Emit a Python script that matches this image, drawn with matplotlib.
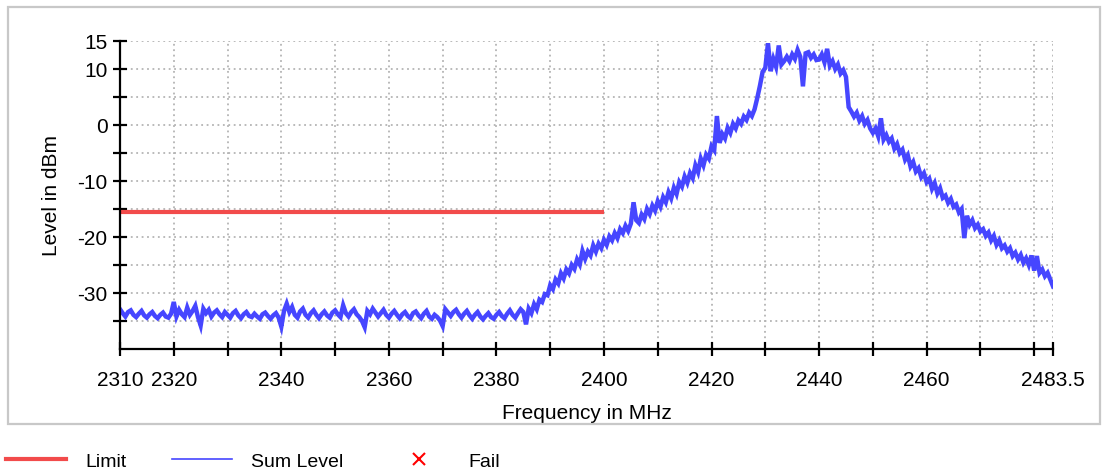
"""Spectrum plot: sum level vs limit line, 2310-2483.5 MHz."""
import numpy as np
import matplotlib
matplotlib.use("Agg")
import matplotlib.pyplot as plt
from matplotlib.lines import Line2D
from matplotlib.patches import Rectangle

plt.rcParams["font.family"] = ["Liberation Sans Narrow", "Liberation Sans", "DejaVu Sans"]

# ── data (0.5 MHz per point) ─────────────────────────────────────────
F_START = 2310.0
F_STEP = 0.5

LEVEL_DBM = [
    # 2310 .. 2384.5 : noise floor
    -32.9, -33.6, -34.2, -33.4, -33.1, -33.9, -34.3, -33.7, -33.2, -34.0,
    -34.4, -33.8, -33.4, -34.1, -34.5, -33.9, -33.5, -34.2, -34.4, -33.7,
    -31.6, -34.2, -33.0, -33.8, -34.3, -32.6, -33.9, -33.2, -32.3, -34.3,
    -35.8, -32.8, -33.6, -33.0, -34.2, -33.5, -33.1, -33.8, -34.3, -33.4,
    -33.9, -34.4, -33.6, -33.2, -34.0, -34.5, -33.8, -33.4, -34.1, -34.3,
    -33.7, -34.2, -34.6, -33.8, -33.5, -34.1, -34.6, -34.0, -33.6, -34.4,
    -36.0, -33.2, -31.9, -33.4, -32.5, -33.9, -34.4, -33.3, -32.8, -33.9,
    -34.4, -33.6, -33.1, -33.9, -34.5, -33.8, -33.3, -34.0, -34.4, -33.5,
    -33.1, -33.8, -34.3, -32.2, -33.6, -34.2, -33.4, -32.9, -33.8, -34.3,
    -35.0, -36.1, -33.2, -33.8, -32.8, -33.5, -34.2, -33.6, -33.0, -33.9,
    -34.4, -33.7, -33.2, -33.9, -34.5, -33.8, -33.4, -34.1, -34.5, -33.6,
    -33.3, -34.0, -34.5, -33.7, -33.2, -34.2, -34.6, -33.9, -34.3, -34.9,
    -35.9, -32.9, -33.5, -34.1, -33.4, -33.0, -33.8, -34.4, -33.7, -33.2,
    -34.0, -34.6, -33.9, -33.4, -34.2, -34.7, -34.1, -33.6, -34.3, -34.6,
    -33.9, -33.4, -34.1, -34.5, -33.7, -33.1, -33.9, -34.4, -33.6, -32.9,
    # 2385 .. 2429.5 : lower skirt
    -33.4, -35.6, -32.8, -33.6, -32.0, -32.9, -31.2, -31.6, -30.2, -30.4,
    -28.6, -29.3, -27.6, -28.3, -26.5, -27.4, -25.8, -26.5, -25.0, -25.7,
    -24.0, -24.9, -22.5, -23.9, -22.6, -23.3, -21.5, -22.6, -21.2, -22.0,
    -20.5, -21.4, -19.9, -20.6, -19.3, -20.2, -18.6, -19.3, -18.0, -18.9,
    -17.6, -13.8, -17.0, -17.5, -16.0, -16.8, -15.0, -15.9, -14.4, -15.3,
    -13.6, -14.6, -12.9, -13.8, -12.0, -13.1, -11.2, -12.3, -10.2, -11.0,
    -9.2, -10.3, -8.6, -9.5, -7.2, -8.4, -6.0, -7.2, -5.3, -6.0,
    -3.8, -4.5, 1.6, -3.2, -1.6, -2.4, -0.5, -1.4, 0.2, -0.6,
    0.8, 0.2, 1.5, 0.9, 2.2, 1.6, 2.8, 4.8, 7.0, 9.5,
    # 2430 .. 2449.5 : in-band
    10.2, 14.6, 9.6, 11.8, 10.4, 14.2, 10.8, 11.4, 12.2, 11.4,
    12.6, 11.8, 13.4, 12.2, 6.9, 12.8, 13.0, 12.0, 12.6, 11.6,
    11.7, 12.6, 11.2, 13.6, 10.6, 11.4, 10.0, 10.8, 9.2, 9.8,
    8.6, 3.2, 2.4, 1.5, 2.2, 0.8, 1.6, 0.2, 0.9, -0.6,
    # 2450 .. 2483.5 : upper skirt
    -1.4, -0.6, -2.0, 1.2, -2.6, -1.8, -3.0, -2.4, -4.2, -3.4,
    -5.0, -4.4, -6.2, -5.4, -7.4, -6.6, -8.3, -7.7, -9.3, -8.6,
    -10.2, -9.6, -11.4, -10.4, -12.2, -11.3, -13.0, -12.6, -13.9, -13.2,
    -14.6, -14.2, -15.6, -15.0, -20.2, -16.2, -17.8, -17.0, -18.4, -17.8,
    -19.0, -18.6, -19.8, -19.2, -20.6, -19.8, -21.4, -20.6, -22.0, -21.5,
    -22.6, -22.0, -23.4, -22.8, -24.0, -23.2, -24.6, -23.8, -25.0, -23.3,
    -26.0, -23.4, -26.4, -25.8, -27.0, -26.4, -27.6, -28.8,
]

LIMIT_MHZ = [2310.0, 2400.0]
LIMIT_DBM = [-15.5, -15.5]

X_TICKS = [2310, 2320, 2330, 2340, 2350, 2360, 2370, 2380, 2390, 2400,
           2410, 2420, 2430, 2440, 2450, 2460, 2470, 2480, 2483.5]
X_LABELS = ["2310", "2320", "", "2340", "", "2360", "", "2380", "", "2400",
            "", "2420", "", "2440", "", "2460", "", "", "2483.5"]
Y_TICKS = [-35, -30, -25, -20, -15, -10, -5, 0, 5, 10, 15]
Y_LABELS = ["", "-30", "", "-20", "", "-10", "", "0", "", "10", "15"]

BLUE = "#4646FF"
RED = "#F24B4B"

# ── figure ────────────────────────────────────────────────────────────
W, H = 1105, 477
fig = plt.figure(figsize=(W / 100, H / 100), dpi=100)
ax = fig.add_axes([120 / W, 1 - 350 / H, (1053 - 120) / W, (350 - 42) / H])

freqs = F_START + F_STEP * np.arange(len(LEVEL_DBM))
ax.plot(freqs, LEVEL_DBM, color=BLUE, lw=3.2, solid_joinstyle="miter", zorder=3)
ax.plot(LIMIT_MHZ, LIMIT_DBM, color=RED, lw=3.0, solid_capstyle="butt", zorder=4)

ax.set_xlim(2310, 2483.5)
ax.set_ylim(-40, 15)
ax.set_xticks(X_TICKS)
ax.set_xticklabels(X_LABELS)
ax.set_yticks(Y_TICKS)
ax.set_yticklabels(Y_LABELS)

ax.grid(True, color="#B4B4B4", linestyle=(0, (1, 2)), lw=1.3)
ax.set_axisbelow(True)
for side in ("top", "right"):
    ax.spines[side].set_visible(False)
for side in ("left", "bottom"):
    ax.spines[side].set_linewidth(1.6)
    ax.spines[side].set_color("black")
    ax.spines[side].set_zorder(5)
ax.tick_params(axis="both", direction="inout", length=10, width=1.6,
               labelsize=15, colors="black")
ax.tick_params(axis="x", pad=10)
ax.tick_params(axis="y", pad=4)

ax.set_xlabel("Frequency in MHz", fontsize=15, labelpad=10)
ax.set_ylabel("Level in dBm", fontsize=15, labelpad=12)

# outer panel frame
fig.add_artist(Rectangle((8 / W, 1 - 425 / H), (1100 - 8) / W, (425 - 8) / H,
                         transform=fig.transFigure, fill=False,
                         ec="#C8C8C8", lw=1.6))

handles = [
    Line2D([], [], color=RED, lw=3.0),
    Line2D([], [], color=BLUE, lw=1.2),
    Line2D([], [], color="red", marker="x", ls="none", ms=9, mew=1.5),
]
fig.legend(handles, ["Limit", "Sum Level", "Fail"], loc="center left",
           bbox_to_anchor=(6 / W, 1 - 462 / H), ncol=3, frameon=False,
           fontsize=14, handlelength=3.1, handletextpad=1.0,
           columnspacing=2.3, borderpad=0, borderaxespad=0)

fig.savefig("out.png", dpi=100)
